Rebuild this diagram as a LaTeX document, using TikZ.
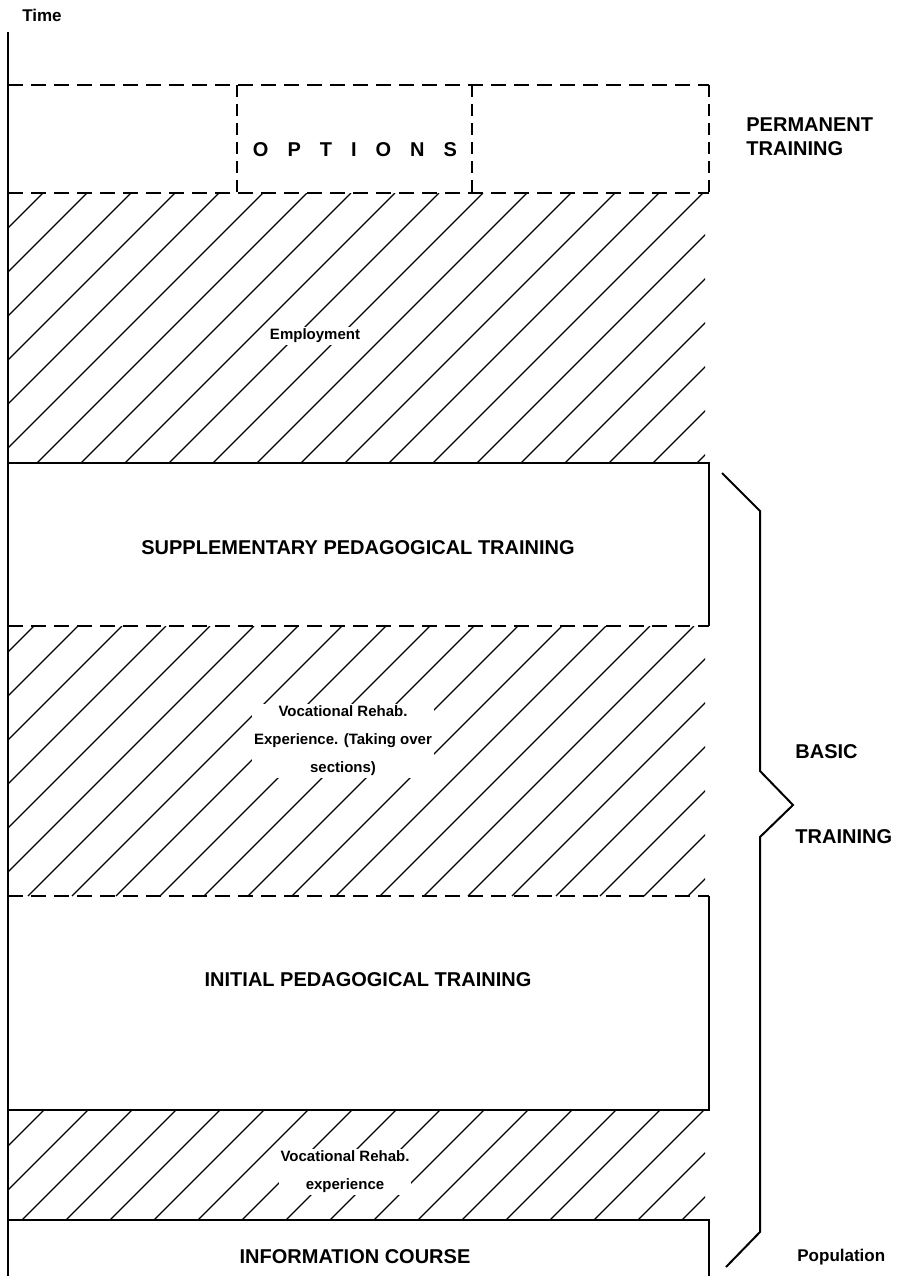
\documentclass[tikz,border=0pt]{standalone}
\usepackage{fontspec}
\setmainfont{Liberation Sans}

\begin{document}
% one band of 45 degree hatching: top, bottom, first offset
\newcommand{\hatchband}[3]{%
  \scope
    \clip (9,#1) rectangle (705,#2);
    \foreach \k in {0,...,32}
      \draw[hatch] ({#3+44*\k-#2},#2) -- ({#3+44*\k-#1},#1);
  \endscope}
\newcommand{\lsp}{\hspace{9.5pt}}

\begin{tikzpicture}[x=0.5pt,y=-0.5pt,
 edge/.style={line width=1pt},
 dashedge/.style={line width=1pt,dash pattern=on 7.5pt off 4pt},
 vdashedge/.style={line width=1pt,dash pattern=on 6pt off 3.5pt},
 hatch/.style={line width=.6pt},
 bigtext/.style={font=\bfseries\fontsize{10}{12}\selectfont,inner sep=1pt},
 smalltext/.style={font=\bfseries\fontsize{7.5}{14}\selectfont,align=center,
 fill=white,inner sep=1pt}
]
\useasboundingbox (0,0) rectangle (909,1276);

% time axis
\coordinate (axtop) at (8,32);
\coordinate (axbot) at (8,1276);
\draw[edge] (axtop) -- (axbot);
\node[bigtext,font=\bfseries\fontsize{8.5}{10}\selectfont] (time) at (42,15) {Time};

% permanent training
\draw[dashedge] (8,85) -- (709,85);
\draw[dashedge] (8,193) -- (709,193);
\draw[vdashedge] (709,85) -- (709,193);
\draw[vdashedge] (237,85) -- (237,193);
\draw[vdashedge] (472,85) -- (472,193);
\node[bigtext] (options) at (355,150)
 {O\lsp P\lsp T\lsp I\lsp O\lsp N\lsp S};
\node[bigtext,anchor=west,align=left] (permanent) at (744,137)
 {PERMANENT\\TRAINING};

% hatched bands
\hatchband{193}{463}{236}
\hatchband{626}{896}{660}
\hatchband{1110}{1220}{1154}

% solid boxes
\draw[edge] (8,463) -- (709,463) -- (709,626);
\draw[dashedge] (8,626) -- (709,626);
\draw[dashedge] (8,896) -- (709,896);
\draw[edge] (709,896) -- (709,1110) -- (8,1110);
\draw[edge] (8,1220) -- (709,1220) -- (709,1276);

% labels of the bands
\node[smalltext] (employment) at (315,336) {Employment};
\node[bigtext] (supplementary) at (358,548) {SUPPLEMENTARY PEDAGOGICAL TRAINING};
\node[smalltext] (vocexp) at (343,741)
 {Vocational Rehab.\\Experience. (Taking over\\sections)};
\node[bigtext] (initial) at (368,980) {INITIAL PEDAGOGICAL TRAINING};
\node[smalltext] (vocrehab) at (345,1172) {Vocational Rehab.\\experience};
\node[bigtext] (information) at (355,1257) {INFORMATION COURSE};

% basic training brace
\draw[edge] (722,473) -- (760,511) -- (760,771) -- (793,805)
 -- (760,837) -- (760,1232) -- (726,1267);
\node[bigtext,anchor=west] (basic) at (793,752) {BASIC};
\node[bigtext,anchor=west] (training) at (793,837) {TRAINING};
\node[bigtext,anchor=west,font=\bfseries\fontsize{8.5}{10}\selectfont]
 (population) at (795,1257) {Population};
\end{tikzpicture}
\end{document}
